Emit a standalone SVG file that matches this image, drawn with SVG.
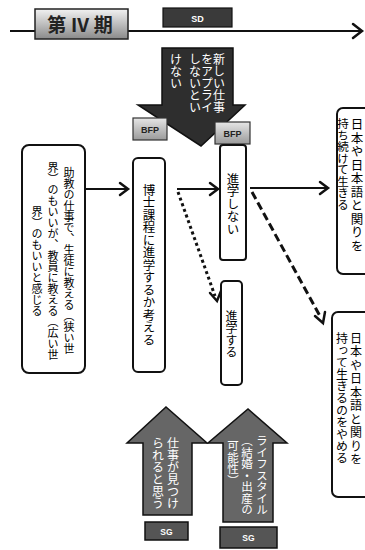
<svg xmlns="http://www.w3.org/2000/svg" width="365" height="550" viewBox="0 0 365 550">
<style>
.v{font-family:"Noto Sans CJK JP","Noto Sans",sans-serif;writing-mode:vertical-rl;text-anchor:middle;}
.box{fill:#fff;stroke:#111;stroke-width:2;}
.ln{fill:none;stroke:#111;stroke-width:2;}
.hd{fill:none;stroke:#111;stroke-width:2.5;stroke-linecap:round;stroke-linejoin:miter;}
.dark{fill:#3a3a3a;stroke:#111;stroke-width:1.2;}
.gray{fill:#666;stroke:#111;stroke-width:1.5;}
.wt{fill:#fff;}
.lab{font-family:"Liberation Sans",Arial,sans-serif;font-weight:bold;}
</style>
<defs>
<linearGradient id="gBox" x1="0" y1="0" x2="0" y2="1">
<stop offset="0" stop-color="#f2f2f2"/>
<stop offset="1" stop-color="#8a8a8a"/>
</linearGradient>
<linearGradient id="gBfp" x1="0" y1="0" x2="0" y2="1">
<stop offset="0" stop-color="#e6e6e6"/>
<stop offset="1" stop-color="#9a9a9a"/>
</linearGradient>
</defs>
<rect width="365" height="550" fill="#fff"/>

<g id="connectors">
<line class="ln" x1="10" y1="31" x2="361" y2="31" stroke-width="2.5"/>
<polyline class="hd" points="353,24 362,31 353,38"/>
<line class="ln" x1="85" y1="189" x2="127" y2="189"/>
<polyline class="hd" points="120,183 128,189 120,195"/>
<line class="ln" x1="177" y1="189" x2="217" y2="189"/>
<polyline class="hd" points="210,183 218,189 210,195"/>
<line class="ln" x1="250" y1="188" x2="327" y2="188"/>
<polyline class="hd" points="320,182 328,188 320,194"/>
<line x1="178" y1="192" x2="215" y2="296" stroke="#111" stroke-width="3" stroke-dasharray="3,3"/>
<polyline class="hd" points="210,293 217,301 221,291" stroke-width="3"/>
<line x1="252" y1="192" x2="321" y2="318" stroke="#111" stroke-width="3" stroke-dasharray="8,4"/>
<polyline class="hd" points="315,316 323,323 325,312" stroke-width="3"/>
</g>

<g id="period">
<rect x="35" y="9" width="93" height="30" fill="url(#gBox)" stroke="#222" stroke-width="1.5"/>
<text x="80" y="32" font-family="'Noto Sans CJK JP',sans-serif" font-weight="bold" font-size="19" text-anchor="middle" fill="#222">第 Ⅳ 期</text>
</g>

<g id="sd">
<rect class="dark" x="163" y="8" width="69" height="19"/>
<text class="lab wt" x="197.5" y="21.5" font-size="9" text-anchor="middle">SD</text>
</g>

<g id="down-arrow">
<polygon points="162,48 233,48 233,105 245,105 201,146 138,105 162,105" fill="#2e2e2e" stroke="#111" stroke-width="1.5"/>
<text class="v wt" x="219" y="53" font-size="12" style="text-anchor:start">新しい仕事</text>
<text class="v wt" x="207" y="53" font-size="12" style="text-anchor:start">をアプライ</text>
<text class="v wt" x="195" y="53" font-size="12" style="text-anchor:start">しないとい</text>
<text class="v wt" x="176" y="53" font-size="12" style="text-anchor:start">けない</text>
</g>

<g id="bfp-left">
<rect x="133" y="118" width="34" height="22" fill="url(#gBfp)" stroke="#333" stroke-width="1.2"/>
<text class="lab" x="150" y="133" font-size="9" text-anchor="middle" fill="#222">BFP</text>
</g>

<g id="bfp-right">
<rect x="215" y="122" width="35" height="22" fill="url(#gBfp)" stroke="#333" stroke-width="1.2"/>
<text class="lab" x="232.5" y="137" font-size="9" text-anchor="middle" fill="#222">BFP</text>
</g>

<g id="motive">
<rect class="box" x="22" y="145" width="63" height="228" rx="7"/>
<text class="v" x="69" y="261" font-size="11">助教の仕事で、生徒に教える（狭い世</text>
<text class="v" x="53" y="261" font-size="11">界）のもいいが、教員に教える（広い世</text>
<text class="v" x="37" y="261" font-size="11">界）のもいいと感じる</text>
</g>

<g id="doctor">
<rect class="box" x="133" y="158" width="32" height="214" rx="5"/>
<text class="v" x="149" y="265" font-size="12.5">博士課程に進学するか考える</text>
</g>

<g id="no-advance">
<rect class="box" x="220" y="145" width="26" height="115" rx="3"/>
<text class="v" x="233" y="204" font-size="12.5">進学しない</text>
</g>

<g id="advance">
<rect class="box" x="221" y="281" width="21" height="104" rx="4"/>
<text class="v" x="231.5" y="334" font-size="12">進学する</text>
</g>

<g id="keep">
<rect class="box" x="337" y="108" width="40" height="166" rx="6"/>
<text class="v" x="357" y="118" font-size="12.5" style="text-anchor:start;letter-spacing:1px">日本や日本語と関りを</text>
<text class="v" x="343" y="118" font-size="11.5" style="text-anchor:start">持ち続けて生きる</text>
</g>

<g id="stop">
<rect class="box" x="332" y="312" width="45" height="185" rx="6"/>
<text class="v" x="356" y="332" font-size="12" style="text-anchor:start;letter-spacing:1.5px">日本や日本語と関りを</text>
<text class="v" x="342" y="332" font-size="12" style="text-anchor:start">持って生きるのをやめる</text>
</g>

<g id="up-arrow-job">
<polygon points="143,515 143,443 127,443 166,407 207,443 192,443 192,515" class="gray"/>
<text class="v wt" x="173" y="437" font-size="12" style="text-anchor:start">仕事が見つけ</text>
<text class="v wt" x="158" y="437" font-size="12" style="text-anchor:start">られると思う</text>
</g>

<g id="up-arrow-life">
<polygon points="223,522 223,443 208,443 248,409 287,443 273,443 273,522" class="gray"/>
<text class="v wt" x="262" y="435" font-size="11.5" style="text-anchor:start">ライフスタイル</text>
<text class="v wt" x="247" y="435" font-size="11.5" style="text-anchor:start">（結婚・出産の</text>
<text class="v wt" x="233" y="440" font-size="11.5" style="text-anchor:start">可能性）</text>
</g>

<g id="sg-left">
<rect x="145" y="522" width="43" height="18" fill="#555" stroke="#111" stroke-width="1.5"/>
<text class="lab wt" x="166.5" y="534.5" font-size="8.5" text-anchor="middle">SG</text>
</g>

<g id="sg-right">
<rect x="220" y="527" width="57" height="21" fill="#555" stroke="#111" stroke-width="1.5"/>
<text class="lab wt" x="248.5" y="541" font-size="8.5" text-anchor="middle">SG</text>
</g>
</svg>
